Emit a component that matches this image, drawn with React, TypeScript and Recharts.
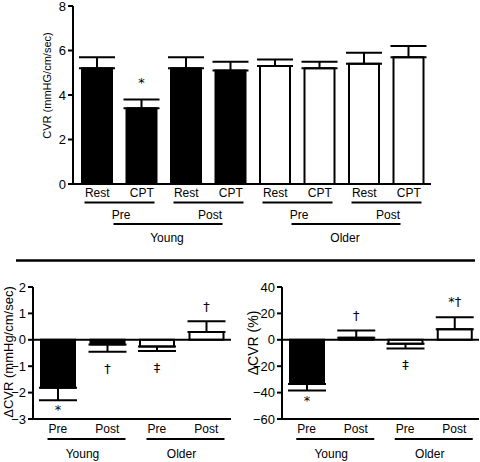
import React from 'react';
import { BarChart, Bar, XAxis, YAxis, ErrorBar, Cell, LabelList, ReferenceLine, Label } from 'recharts';

const FONT = '"Liberation Sans", Arial, Helvetica, sans-serif';
const MARK_FONT = '"DejaVu Sans", "Liberation Sans", sans-serif';

// ---------- Top panel data ----------
const topCategories = ['Young Pre Rest', 'Young Pre CPT', 'Young Post Rest', 'Young Post CPT', 'Older Pre Rest', 'Older Pre CPT', 'Older Post Rest', 'Older Post CPT'];
const topGroups = ['Young', 'Young', 'Young', 'Young', 'Older', 'Older', 'Older', 'Older'];
const topTickLabels = ['Rest', 'CPT', 'Rest', 'CPT', 'Rest', 'CPT', 'Rest', 'CPT'];
const topPhaseLabels = ['Pre', 'Post', 'Pre', 'Post'];
const topGroupLabels = ['Young', 'Older'];
const topValues = [5.2, 3.4, 5.2, 5.1, 5.3, 5.2, 5.4, 5.7];
const topErrors = [0.5, 0.4, 0.5, 0.4, 0.3, 0.3, 0.5, 0.5];
const topMarks = ['', '*', '', '', '', '', '', ''];
const topYTicks = [0, 2, 4, 6, 8];

// ---------- Bottom panels data ----------
const deltaCategories = ['Young Pre', 'Young Post', 'Older Pre', 'Older Post'];
const deltaGroups = ['Young', 'Young', 'Older', 'Older'];
const deltaTickLabels = ['Pre', 'Post', 'Pre', 'Post'];
const deltaGroupLabels = ['Young', 'Older'];

const deltaAbsValues = [-1.82, -0.18, -0.25, 0.3];
const deltaAbsErrors = [0.47, 0.27, 0.17, 0.4];
const deltaAbsMarks = ['*', '†', '‡', '†'];
const deltaAbsYTicks = [-3, -2, -1, 0, 1, 2];

const deltaPctValues = [-33.5, 1.5, -3, 8];
const deltaPctErrors = [5, 5.5, 3.5, 9];
const deltaPctMarks = ['*', '†', '‡', '*†'];
const deltaPctYTicks = [-60, -40, -20, 0, 20, 40];

// ---------- build tables ----------
const topData = topCategories.map((c, i) => ({
  cat: c,
  value: topValues[i],
  err: [0, topErrors[i]],
  errSize: topErrors[i],
  mark: topMarks[i],
  group: topGroups[i],
}));

function buildDelta(values: number[], errors: number[], marks: string[]) {
  return deltaCategories.map((c, i) => ({
    cat: c,
    value: values[i],
    err: values[i] < 0 ? [errors[i], 0] : [0, errors[i]],
    errSize: errors[i],
    mark: marks[i],
    group: deltaGroups[i],
  }));
}
const absData = buildDelta(deltaAbsValues, deltaAbsErrors, deltaAbsMarks);
const pctData = buildDelta(deltaPctValues, deltaPctErrors, deltaPctMarks);

const fillFor = (g: string) => (g === 'Young' ? '#000' : '#fff');
const minus = (v: number) => String(v).replace('-', '\u2212');

// ---------- renderers ----------
const makeMark = (data: any[], aboveOffset: number) => (props: any) => {
  const idx = props.index;
  const d = data[idx];
  if (!d || !d.mark) return null;
  const vb = props.viewBox && props.viewBox.width !== undefined ? props.viewBox : props;
  const ya = Number(vb.y);
  const yb = Number(vb.y) + Number(vb.height);
  const y0 = Math.min(ya, yb);
  const y1 = Math.max(ya, yb);
  const ppu = (y1 - y0) / Math.abs(d.value);
  const cx = Number(vb.x) + Number(vb.width) / 2;
  let ty;
  if (d.value >= 0) {
    const end = y1 - (d.value + d.errSize) * ppu;
    ty = end - aboveOffset;
  } else {
    const end = y0 + (Math.abs(d.value) + d.errSize) * ppu;
    ty = end + (d.mark === '*' ? 14 : 21);
  }
  return (
    <text x={cx} y={ty} textAnchor="middle" fontSize={13} fontFamily={MARK_FONT} fill="#000" stroke="none">
      {d.mark}
    </text>
  );
};

const TOP_PITCH = (431 - 75) / 8;

const TopTick = (props: any) => {
  const { x, y, payload } = props;
  const i = payload && payload.index !== undefined ? payload.index : props.index;
  const els: any[] = [
    <text key="t" x={x} y={y + 13} textAnchor="middle" fontSize={12} fontFamily={FONT} fill="#000">
      {topTickLabels[i]}
    </text>,
  ];
  if (i % 2 === 0) {
    const pc = x + TOP_PITCH / 2;
    els.push(<line key="l1" x1={pc - 35} x2={pc + 35} y1={y + 18.5} y2={y + 18.5} stroke="#000" strokeWidth={2} />);
    els.push(
      <text key="p" x={pc + 1.5} y={y + 35} textAnchor="middle" fontSize={12} fontFamily={FONT} fill="#000">
        {topPhaseLabels[i / 2]}
      </text>
    );
  }
  if (i % 4 === 0) {
    const preC = x + TOP_PITCH / 2;
    const postC = x + TOP_PITCH * 2.5;
    els.push(<line key="l2" x1={preC - 6} x2={postC + 14} y1={y + 40} y2={y + 40} stroke="#000" strokeWidth={2} />);
    els.push(
      <text key="g" x={(preC + postC) / 2 + 3} y={y + 58} textAnchor="middle" fontSize={12} fontFamily={FONT} fill="#000">
        {topGroupLabels[i / 4]}
      </text>
    );
  }
  return <g>{els}</g>;
};

const makeDeltaTick = (pitch: number) => (props: any) => {
  const { x, y, payload } = props;
  const i = payload && payload.index !== undefined ? payload.index : props.index;
  const els: any[] = [
    <text key="t" x={x} y={y + 14} textAnchor="middle" fontSize={12} fontFamily={FONT} fill="#000">
      {deltaTickLabels[i]}
    </text>,
  ];
  if (i % 2 === 0) {
    const pc = x + pitch / 2;
    els.push(<line key="l" x1={pc - 35} x2={pc + 43} y1={y + 20} y2={y + 20} stroke="#000" strokeWidth={2} />);
    els.push(
      <text key="g" x={pc} y={y + 39} textAnchor="middle" fontSize={12} fontFamily={FONT} fill="#000">
        {deltaGroupLabels[i / 2]}
      </text>
    );
  }
  return <g>{els}</g>;
};

const YLabel = (text: string, dx: number, dy: number, fontSize: number) => (props: any) => {
  const vb = props.viewBox || { x: 0, y: 0, width: 0, height: 0 };
  const cx = vb.x + dx;
  const cy = vb.y + vb.height / 2 + dy;
  return (
    <text
      x={cx}
      y={cy}
      transform={`rotate(-90 ${cx} ${cy})`}
      textAnchor="middle"
      dominantBaseline="central"
      fontSize={fontSize}
      fontFamily={FONT}
      fill="#000"
    >
      {text}
    </text>
  );
};

const axisLine = { stroke: '#000', strokeWidth: 2 };
const tickLine = { stroke: '#000', strokeWidth: 2 };
const yTickStyle = { fill: '#000', fontSize: 13, fontFamily: FONT };

export default function App() {
  return (
    <div style={{ position: 'absolute', left: 0, top: 0, width: 480, height: 462, background: '#fff', fontFamily: FONT }}>
      {/* Top panel */}
      <div style={{ position: 'absolute', left: 0, top: 0 }}>
        <BarChart width={480} height={250} data={topData} margin={{ top: 6, right: 49, bottom: 0, left: 0 }}>
          <XAxis
            dataKey="cat"
            interval={0}
            tick={<TopTick />}
            tickLine={false}
            tickSize={0}
            tickMargin={0}
            axisLine={axisLine}
            height={66}
            padding={{ left: 2, right: 0 }}
          />
          <YAxis
            domain={[0, 8]}
            ticks={topYTicks}
            width={73}
            tick={yTickStyle}
            tickLine={tickLine}
            tickSize={5}
            tickMargin={2}
            axisLine={axisLine}
            interval={0}
          >
            <Label content={YLabel('CVR (mmHG/cm/sec)', 47, -9.5, 11)} />
          </YAxis>
          <Bar dataKey="value" barSize={30} stroke="#000" strokeWidth={2} isAnimationActive={false}>
            {topData.map((d, i) => (
              <Cell key={i} fill={fillFor(d.group)} />
            ))}
            <ErrorBar dataKey="err" width={18} stroke="#000" strokeWidth={2} direction="y" isAnimationActive={false} />
            <LabelList dataKey="mark" content={makeMark(topData, 12)} />
          </Bar>
        </BarChart>
      </div>

      {/* Separator */}
      <svg width={480} height={462} style={{ position: 'absolute', left: 0, top: 0, pointerEvents: 'none' }}>
        <line x1={16} x2={475} y1={260.5} y2={260.5} stroke="#000" strokeWidth={2.5} />
      </svg>

      {/* Bottom-left panel */}
      <div style={{ position: 'absolute', left: 0, top: 270 }}>
        <BarChart width={240} height={192} data={absData} margin={{ top: 17, right: 9, bottom: 0, left: 0 }}>
          <XAxis
            dataKey="cat"
            interval={0}
            tick={makeDeltaTick((231 - 33) / 4)}
            tickLine={false}
            tickSize={0}
            tickMargin={0}
            axisLine={axisLine}
            height={43}
          />
          <YAxis
            domain={[-3, 2]}
            ticks={deltaAbsYTicks}
            width={33}
            tick={yTickStyle}
            tickFormatter={minus}
            tickLine={tickLine}
            tickSize={5}
            tickMargin={2}
            axisLine={axisLine}
            interval={0}
          >
            <Label content={YLabel('ΔCVR (mmHg/cm/sec)', 8, -1, 13)} />
          </YAxis>
          <ReferenceLine y={0} stroke="#000" strokeWidth={2} />
          <Bar dataKey="value" barSize={34} stroke="#000" strokeWidth={2} isAnimationActive={false}>
            {absData.map((d, i) => (
              <Cell key={i} fill={fillFor(d.group)} />
            ))}
            <ErrorBar dataKey="err" width={19} stroke="#000" strokeWidth={2} direction="y" isAnimationActive={false} />
            <LabelList dataKey="mark" content={makeMark(absData, 10)} />
          </Bar>
        </BarChart>
      </div>

      {/* Bottom-right panel */}
      <div style={{ position: 'absolute', left: 240, top: 270 }}>
        <BarChart width={240} height={192} data={pctData} margin={{ top: 17, right: 1, bottom: 0, left: 0 }}>
          <XAxis
            dataKey="cat"
            interval={0}
            tick={makeDeltaTick((479 - 282) / 4)}
            tickLine={false}
            tickSize={0}
            tickMargin={0}
            axisLine={axisLine}
            height={43}
          />
          <YAxis
            domain={[-60, 40]}
            ticks={deltaPctYTicks}
            width={42}
            tick={yTickStyle}
            tickFormatter={minus}
            tickLine={tickLine}
            tickSize={5}
            tickMargin={2}
            axisLine={axisLine}
            interval={0}
          >
            <Label content={YLabel('ΔCVR (%)', 13, -10, 14)} />
          </YAxis>
          <ReferenceLine y={0} stroke="#000" strokeWidth={2} />
          <Bar dataKey="value" barSize={34} stroke="#000" strokeWidth={2} isAnimationActive={false}>
            {pctData.map((d, i) => (
              <Cell key={i} fill={fillFor(d.group)} />
            ))}
            <ErrorBar dataKey="err" width={19} stroke="#000" strokeWidth={2} direction="y" isAnimationActive={false} />
            <LabelList dataKey="mark" content={makeMark(pctData, 11)} />
          </Bar>
        </BarChart>
      </div>
    </div>
  );
}
